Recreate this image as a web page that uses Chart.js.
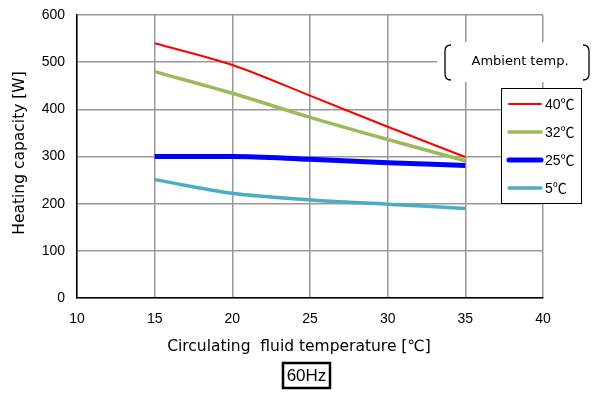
<!DOCTYPE html>
<html>
<head>
<meta charset="utf-8">
<script src="https://cdn.jsdelivr.net/npm/chart.js@4"></script>
<style>
  html, body { margin: 0; padding: 0; background: #fff; }
  #wrap { width: 595px; height: 394px; position: relative; }
</style>
</head>
<body>
<div id="wrap"><canvas id="chart"></canvas></div>
<script>
// data
const fluidTemps = [15, 20, 25, 30, 35];
const cap40 = [540, 494, 429, 363, 299];
const cap32 = [480, 434, 383, 336, 291];
const cap25 = [300, 300, 294, 287, 281];
const cap5 = [251, 222, 208, 199, 190];
const seriesLabels = ['40℃', '32℃', '25℃', '5℃'];
const xTicks = [10, 15, 20, 25, 30, 35, 40];
const yTicks = [0, 100, 200, 300, 400, 500, 600];

const FONT = "'Liberation Sans', 'Noto Sans CJK JP', sans-serif";
const WIDE = "'DejaVu Sans', 'Noto Sans CJK JP', sans-serif";

function pts(vals) {
  return fluidTemps.map((x, i) => ({ x: x, y: vals[i] }));
}

// titles, the "Ambient temp." tag, the legend box and the 60Hz box
const extras = {
  id: 'extras',
  afterDraw(chart) {
    const ctx = chart.ctx;
    ctx.save();

    // y axis title
    ctx.fillStyle = '#000';
    ctx.font = '15.5px ' + WIDE;
    ctx.textAlign = 'center';
    ctx.textBaseline = 'middle';
    ctx.save();
    ctx.translate(20, 153);
    ctx.rotate(-Math.PI / 2);
    ctx.fillText('Heating capacity [W]', 0, 0);
    ctx.restore();

    // x axis title
    ctx.fillText('Circulating  fluid temperature [℃]', 299, 347);

    // Ambient temp. tag
    ctx.fillStyle = '#fff';
    ctx.fillRect(437, 42, 158, 40);
    ctx.strokeStyle = '#000';
    ctx.lineWidth = 1.3;
    ctx.beginPath();
    ctx.moveTo(451, 45);
    ctx.quadraticCurveTo(445, 45, 445, 51);
    ctx.lineTo(445, 74);
    ctx.quadraticCurveTo(445, 80, 451, 80);
    ctx.moveTo(583, 45);
    ctx.quadraticCurveTo(589, 45, 589, 51);
    ctx.lineTo(589, 74);
    ctx.quadraticCurveTo(589, 80, 583, 80);
    ctx.stroke();
    ctx.fillStyle = '#000';
    ctx.font = '13px ' + WIDE;
    ctx.fillText('Ambient temp.', 520, 62);

    // legend box
    ctx.fillStyle = '#fff';
    ctx.fillRect(501, 88, 80, 115);
    ctx.strokeStyle = '#000';
    ctx.lineWidth = 1;
    ctx.strokeRect(501.5, 88.5, 80, 115);
    ctx.textAlign = 'left';
    ctx.font = '14px ' + FONT;
    chart.data.datasets.forEach((ds, i) => {
      const y = 104 + i * 28;
      ctx.strokeStyle = ds.borderColor;
      ctx.lineWidth = ds.borderWidth;
      ctx.lineCap = 'round';
      ctx.beginPath();
      ctx.moveTo(509, y);
      ctx.lineTo(541, y);
      ctx.stroke();
      ctx.fillStyle = '#000';
      ctx.fillText(ds.label, 545, y + 1);
    });

    // 60Hz box
    ctx.lineCap = 'butt';
    ctx.strokeStyle = '#000';
    ctx.lineWidth = 2.5;
    ctx.strokeRect(283, 363, 47, 25);
    ctx.textAlign = 'center';
    ctx.font = '17px ' + FONT;
    ctx.fillText('60Hz', 306.5, 376);

    ctx.restore();
  }
};

new Chart(document.getElementById('chart'), {
  type: 'line',
  data: {
    datasets: [
      { label: seriesLabels[0], data: pts(cap40), borderColor: '#ff0000', borderWidth: 2 },
      { label: seriesLabels[1], data: pts(cap32), borderColor: '#9bbb59', borderWidth: 3.5 },
      { label: seriesLabels[2], data: pts(cap25), borderColor: '#0000ff', borderWidth: 5 },
      { label: seriesLabels[3], data: pts(cap5), borderColor: '#4bacc6', borderWidth: 3.5 }
    ]
  },
  options: {
    responsive: true,
    maintainAspectRatio: false,
    animation: false,
    layout: { padding: { left: 0, right: 52, top: 15, bottom: 0 } },
    elements: {
      point: { radius: 0 },
      line: { tension: 0.4, cubicInterpolationMode: 'monotone', fill: false, borderCapStyle: 'butt' }
    },
    plugins: {
      legend: { display: false },
      tooltip: { enabled: false }
    },
    scales: {
      x: {
        type: 'linear',
        min: 10,
        max: 40,
        afterBuildTicks: (s) => { s.ticks = xTicks.map(v => ({ value: v })); },
        afterFit: (s) => { s.height = 96; s.paddingLeft = 0; s.paddingRight = 0; },
        grid: { color: '#999', lineWidth: 1.5, drawTicks: false },
        border: { color: '#000', width: 1.5 },
        ticks: { color: '#000', font: { family: FONT, size: 14 }, padding: 13 }
      },
      y: {
        min: 0,
        max: 600,
        afterBuildTicks: (s) => { s.ticks = yTicks.map(v => ({ value: v })); },
        afterFit: (s) => { s.width = 77; s.paddingTop = 0; s.paddingBottom = 0; },
        grid: { color: '#999', lineWidth: 1.5, drawTicks: false },
        border: { color: '#000', width: 1.5 },
        ticks: { color: '#000', font: { family: FONT, size: 14 }, padding: 12 }
      }
    }
  },
  plugins: [extras]
});
</script>
</body>
</html>
